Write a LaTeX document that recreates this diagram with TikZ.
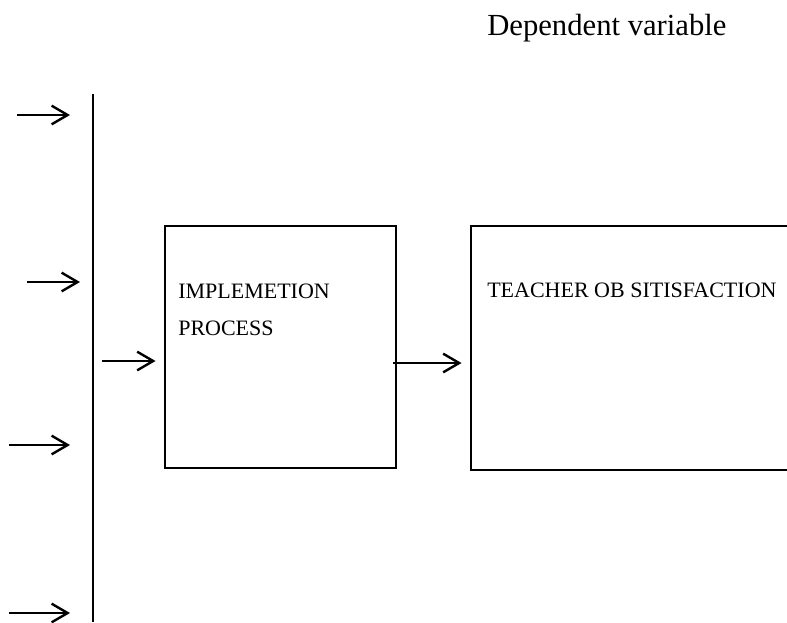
\documentclass[tikz,border=0pt]{standalone}
\usepackage{fontspec}
\setmainfont{Liberation Serif}
\usetikzlibrary{arrows.meta}

\begin{document}
\begin{tikzpicture}[x=0.75pt,y=-0.75pt,
  >={Straight Barb[length=12pt,width=14pt]},
  arr/.style={->,line width=1.8pt},
  blockbox/.style={draw,line width=2.2pt,inner sep=0pt},
  boxtext/.style={anchor=base west,inner sep=0pt,font=\fontsize{16.5}{27.75}\selectfont}]
\useasboundingbox (0,0) rectangle (787,622);
% heading
\node[anchor=base west,inner sep=0pt,font=\fontsize{23}{27}\selectfont] (dep) at (487,35) {Dependent variable};
% the two blocks
\node[blockbox,minimum width=173.25pt,minimum height=181.5pt] (impl) at (280.5,347) {};
\node[blockbox,minimum width=243pt,minimum height=183pt] (satis) at (633,348) {};
\node[boxtext,align=left] (impltxt) at (178,335) {IMPLEMETION\\PROCESS};
\node[boxtext] (satistxt) at (487,297) {TEACHER OB SITISFACTION};
% vertical line
\coordinate (vtop) at (93,94);
\coordinate (vbot) at (93,622);
\draw[line width=1.8pt] (vtop) -- (vbot);
% arrows on the left
\coordinate (a1) at (17,115);  \coordinate (b1) at (70,115);
\coordinate (a2) at (27,282);  \coordinate (b2) at (80,282);
\coordinate (a4) at (9,445);   \coordinate (b4) at (70,445);
\coordinate (a5) at (9,613);   \coordinate (b5) at (70,613);
\draw[arr] (a1) -- (b1);
\draw[arr] (a2) -- (b2);
\draw[arr] (a4) -- (b4);
\draw[arr] (a5) -- (b5);
% into the first block
\coordinate (a3) at (102,361);
\draw[arr,shorten >=6pt] (a3) -- (a3 -| impl.west);
% from block to block
\coordinate (mid) at (393,363);
\draw[arr,shorten >=6pt] (mid) -- (mid -| satis.west);
\end{tikzpicture}
\end{document}
